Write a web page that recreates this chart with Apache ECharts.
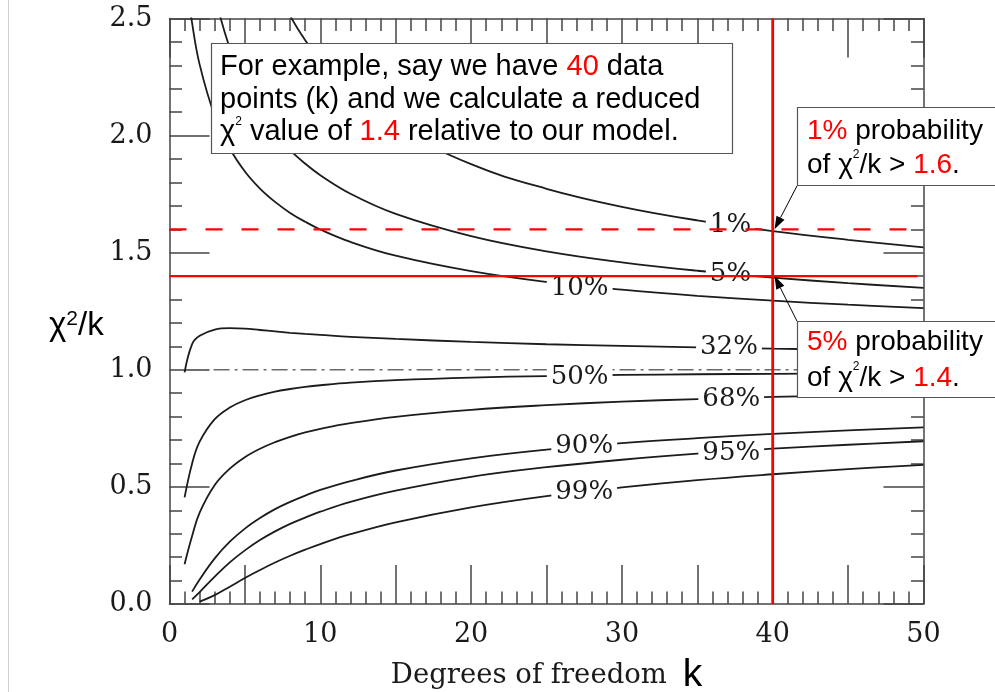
<!DOCTYPE html>
<html><head><meta charset="utf-8">
<script src="https://cdn.jsdelivr.net/npm/echarts@6/dist/echarts.min.js"></script>
<style>html,body{margin:0;padding:0;background:#fff}#c{width:995px;height:692px}</style>
</head><body><div id="c"></div>
<script>
// Degrees of freedom sampled along the curves
const kGrid = [1, 1.5, 2, 3, 4, 5, 6, 7, 8, 9, 10, 12, 15, 20, 25, 30, 35, 40, 45, 50];
// reduced chi-square value exceeded with the given probability
const p01 = [null, null, null, null, null, null, 2.802, 2.639, 2.511, 2.407, 2.321, 2.185, 2.039, 1.878, 1.773, 1.696, 1.638, 1.592, 1.555, 1.523];
const p05 = [null, null, 2.996, 2.605, 2.372, 2.214, 2.099, 2.010, 1.938, 1.880, 1.831, 1.752, 1.666, 1.571, 1.506, 1.459, 1.423, 1.394, 1.370, 1.350];
const p10 = [2.706, 2.480, 2.303, 2.084, 1.945, 1.847, 1.774, 1.717, 1.670, 1.632, 1.599, 1.546, 1.487, 1.421, 1.375, 1.342, 1.316, 1.295, 1.278, 1.263];
const p32 = [0.989, 1.110, 1.145, 1.172, 1.178, 1.176, 1.170, 1.164, 1.158, 1.153, 1.149, 1.141, 1.132, 1.119, 1.109, 1.102, 1.096, 1.090, 1.086, 1.082];
const p50 = [0.455, 0.600, 0.693, 0.789, 0.839, 0.870, 0.891, 0.907, 0.918, 0.927, 0.934, 0.945, 0.956, 0.967, 0.973, 0.978, 0.981, 0.983, 0.985, 0.987];
const p68 = [0.170, 0.290, 0.390, 0.508, 0.578, 0.627, 0.663, 0.691, 0.714, 0.733, 0.748, 0.772, 0.799, 0.829, 0.849, 0.864, 0.875, 0.884, 0.891, 0.897];
const p90 = [null, 0.053, 0.105, 0.195, 0.266, 0.322, 0.367, 0.405, 0.436, 0.463, 0.487, 0.525, 0.570, 0.622, 0.659, 0.687, 0.708, 0.726, 0.741, 0.754];
const p95 = [null, 0.020, 0.051, 0.117, 0.178, 0.229, 0.273, 0.310, 0.342, 0.369, 0.394, 0.436, 0.484, 0.543, 0.584, 0.616, 0.642, 0.663, 0.680, 0.695];
const p99 = [null, null, 0.010, 0.038, 0.074, 0.111, 0.145, 0.177, 0.206, 0.232, 0.256, 0.298, 0.349, 0.413, 0.461, 0.498, 0.529, 0.554, 0.576, 0.594];

// curve labels
const curveLabels = ['1%', '5%', '10%', '32%', '50%', '68%', '90%', '95%', '99%'];
const labelK = [37.2, 37.2, 27.2, 37.1, 27.2, 37.25, 27.5, 37.25, 27.5];
const labelV = [1.618, 1.409, 1.350, 1.097, 0.970, 0.876, 0.675, 0.645, 0.478];

// reference lines
const unityLine = [[1, 1.0], [50, 1.0]];
const dashedRefLine = [[0, 1.6], [49.2, 1.6]];
const solidRefLine = [[0, 1.4], [49.6, 1.4]];
const verticalRefLine = [[40, 0], [40, 2.5]];
const arrow1 = [[41.61, 1.785], [40.12, 1.6]];
const arrow2 = [[41.61, 1.208], [40.12, 1.4]];

const SERIF = "'DejaVu Serif', 'Liberation Serif', serif";
const SANS = "'Liberation Sans', Arial, sans-serif";
const FRAME = '#444';
const CURVE = '#1c1c1c';
const TXT = '#1a1a1a';

function pairs(arr) {
  return kGrid.map((k, i) => [k, arr[i]]).filter(d => d[1] !== null);
}

const curveSets = [p01, p05, p10, p32, p50, p68, p90, p95, p99];
const curveSeries = curveSets.map((arr, i) => ({
  type: 'line', name: curveLabels[i], data: pairs(arr), showSymbol: false,
  smooth: 0.4, clip: true, silent: true, z: 2,
  lineStyle: { color: CURVE, width: 1.8 }
}));

function axisCommon(extra) {
  return Object.assign({
    type: 'value',
    axisLine: { show: true, onZero: false, lineStyle: { color: FRAME, width: 1.5 } },
    minorTick: { show: true, splitNumber: 5, length: 12.5, lineStyle: { color: FRAME, width: 1.5 } },
    splitLine: { show: false },
    minorSplitLine: { show: false }
  }, extra);
}

const chart = echarts.init(document.getElementById('c'), null, { renderer: 'canvas' });

const boxText1 = '{t|For example, say we have }{r|40}{t| data}\n{t|points (k) and we calculate a reduced}\n{t|χ}{s|2}{t| value of }{r|1.4}{t| relative to our model.}';
const boxText2 = '{r|1%}{t| probability}\n{t|of χ}{s|2}{t|/k > }{r|1.6}{t|.}';
const boxText3 = '{r|5%}{t| probability}\n{t|of χ}{s|2}{t|/k > }{r|1.4}{t|.}';
function boxRich(fs, lh) {
  return {
    t: { fontFamily: SANS, fontSize: fs, lineHeight: lh, fill: '#000' },
    r: { fontFamily: SANS, fontSize: fs, lineHeight: lh, fill: '#ff0000' },
    s: { fontFamily: SANS, fontSize: 12, lineHeight: 14, verticalAlign: 'top', fill: '#000' }
  };
}

chart.setOption({
  animation: false,
  backgroundColor: '#fff',
  grid: { left: 169.5, right: 71.5, top: 18.5, bottom: 88, outerBoundsMode: 'none', containLabel: false },
  xAxis: [
    axisCommon({
      position: 'bottom', min: 0, max: 50, interval: 5,
      axisTick: { show: true, inside: true, length: 39, lineStyle: { color: FRAME, width: 1.5 } },
      axisLabel: {
        show: true, margin: 15, fontFamily: SERIF, fontSize: 27, lineHeight: 32, color: TXT,
        showMinLabel: true, showMaxLabel: true,
        formatter: v => (v % 10 === 0 ? String(v) : '')
      },
      name: '{s|Degrees of freedom }{k|k}', nameLocation: 'middle', nameGap: 45,
      nameTextStyle: { rich: {
        s: { fontFamily: SERIF, fontSize: 27.5, color: TXT, lineHeight: 40 },
        k: { fontFamily: SANS, fontSize: 39, color: '#000', lineHeight: 40, padding: [0, 0, 0, 7] }
      } }
    }),
    axisCommon({
      position: 'top', min: 0, max: 50, interval: 5,
      axisTick: { show: true, inside: true, length: 39, lineStyle: { color: FRAME, width: 1.5 } },
      axisLabel: { show: false }
    })
  ],
  yAxis: [
    axisCommon({
      position: 'left', min: 0, max: 2.5, interval: 0.5,
      axisTick: { show: true, inside: true, length: 40, lineStyle: { color: FRAME, width: 1.5 } },
      axisLabel: {
        show: true, margin: 17, fontFamily: SERIF, fontSize: 27, lineHeight: 32, color: TXT,
        showMinLabel: true, showMaxLabel: true, formatter: v => v.toFixed(1)
      },
      name: '{c|χ}{s|2}{c|/k}', nameLocation: 'middle', nameRotate: 0, nameGap: 59,
      nameTextStyle: { padding: [30, 0, 0, 0], rich: {
        c: { fontFamily: SANS, fontSize: 33, color: '#000', lineHeight: 36 },
        s: { fontFamily: SANS, fontSize: 21, color: '#000', lineHeight: 21, verticalAlign: 'top' }
      } }
    }),
    axisCommon({
      position: 'right', min: 0, max: 2.5, interval: 0.5,
      axisTick: { show: true, inside: true, length: 40, lineStyle: { color: FRAME, width: 1.5 } },
      axisLabel: { show: false }
    })
  ],
  series: [
    {
      type: 'line', data: unityLine, showSymbol: false, silent: true, z: 1,
      lineStyle: { color: '#6a6a6a', width: 1.5, type: [16, 5, 3, 5] }
    },
    ...curveSeries,
    {
      type: 'scatter', silent: true, z: 3, symbolSize: 1,
      itemStyle: { color: '#fff', opacity: 1 },
      data: labelK.map((k, i) => [k, labelV[i], curveLabels[i]]),
      label: {
        show: true, position: 'inside', formatter: p => p.data[2],
        fontFamily: SERIF, fontSize: 26, lineHeight: 24, color: TXT,
        textBorderWidth: 0, backgroundColor: '#fff', padding: [0, 4]
      }
    },
    {
      type: 'line', data: dashedRefLine, showSymbol: false, silent: true, z: 4,
      lineStyle: { color: '#ff0000', width: 2.2, type: [17, 19] }
    },
    {
      type: 'line', data: solidRefLine, showSymbol: false, silent: true, z: 4,
      lineStyle: { color: '#ff0000', width: 2.4 }
    },
    {
      type: 'line', data: verticalRefLine, showSymbol: false, silent: true, z: 4,
      lineStyle: { color: '#ff0000', width: 2.8 }
    }
  ]
});

function arrowEls(a) {
  const p0 = chart.convertToPixel({ xAxisIndex: 0, yAxisIndex: 0 }, a[0]);
  const p1 = chart.convertToPixel({ xAxisIndex: 0, yAxisIndex: 0 }, a[1]);
  const dx = p1[0] - p0[0], dy = p1[1] - p0[1], L = Math.hypot(dx, dy);
  const ux = dx / L, uy = dy / L, hl = 13, hw = 4.5;
  const bx = p1[0] - ux * hl, by = p1[1] - uy * hl;
  return [
    { type: 'line', z: 102, shape: { x1: p0[0], y1: p0[1], x2: bx, y2: by }, style: { stroke: '#000', lineWidth: 1 } },
    { type: 'polygon', z: 102, shape: { points: [[p1[0], p1[1]], [bx - uy * hw, by + ux * hw], [bx + uy * hw, by - ux * hw]] }, style: { fill: '#000' } }
  ];
}

chart.setOption({
  graphic: [
    { type: 'line', z: 100, shape: { x1: 8.5, y1: 0, x2: 8.5, y2: 692 }, style: { stroke: '#cfcfcf', lineWidth: 1 } },
    { type: 'rect', z: 100, shape: { x: 211.5, y: 43.5, width: 521, height: 110 }, style: { fill: '#fff', stroke: '#555', lineWidth: 1.2 } },
    { type: 'text', z: 101, x: 220, y: 51, style: { text: boxText1, rich: boxRich(29, 32.5) } },
    { type: 'rect', z: 100, shape: { x: 797.5, y: 107.5, width: 220, height: 78 }, style: { fill: '#fff', stroke: '#555', lineWidth: 1.2 } },
    { type: 'text', z: 101, x: 807, y: 114, style: { text: boxText2, rich: boxRich(28, 34.5) } },
    { type: 'rect', z: 100, shape: { x: 797.5, y: 321.5, width: 220, height: 76 }, style: { fill: '#fff', stroke: '#555', lineWidth: 1.2 } },
    { type: 'text', z: 101, x: 807, y: 325, style: { text: boxText3, rich: boxRich(28, 35.5) } },
    ...arrowEls(arrow1),
    ...arrowEls(arrow2)
  ]
});
</script>
</body></html>
